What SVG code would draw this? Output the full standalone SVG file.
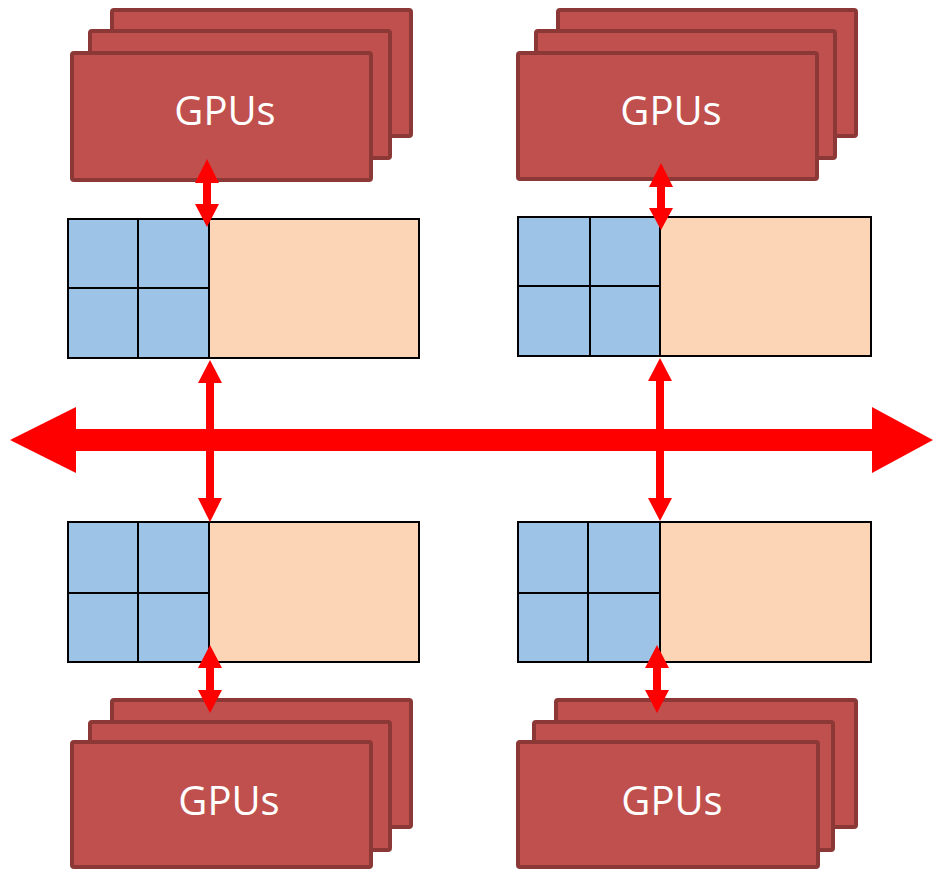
<svg xmlns="http://www.w3.org/2000/svg" width="933" height="871" viewBox="0 0 933 871">
  <style>
    .gpu { fill: #C0504D; stroke: #8C3836; stroke-width: 4; }
    .label { font-family: "Open Sans", "Liberation Sans", sans-serif; font-size: 40px; fill: #FFFFFF; text-anchor: middle; }
    .mem { fill: #FBD5B5; stroke: #000000; stroke-width: 2; }
    .cell { fill: #9DC3E6; stroke: #000000; stroke-width: 2; }
    .grid { stroke: #000000; stroke-width: 2; fill: none; }
    .link { fill: #FF0000; }
  </style>

  <!-- GPU stacks -->
  <g id="gpus-top-left">
    <rect class="gpu" x="112" y="10" width="299" height="126" rx="2"/>
    <rect class="gpu" x="90" y="31" width="300" height="127" rx="2"/>
    <rect class="gpu" x="72" y="53" width="299" height="127" rx="2"/>
    <text class="label" x="225" y="125">GPUs</text>
  </g>
  <g id="gpus-top-right">
    <rect class="gpu" x="558" y="10" width="298" height="126" rx="2"/>
    <rect class="gpu" x="536" y="31" width="299" height="127" rx="2"/>
    <rect class="gpu" x="518" y="53" width="299" height="126" rx="2"/>
    <text class="label" x="671" y="125">GPUs</text>
  </g>
  <g id="gpus-bottom-left">
    <rect class="gpu" x="112" y="700" width="299" height="127" rx="2"/>
    <rect class="gpu" x="90" y="722" width="300" height="128" rx="2"/>
    <rect class="gpu" x="72" y="742" width="299" height="125" rx="2"/>
    <text class="label" x="229" y="815">GPUs</text>
  </g>
  <g id="gpus-bottom-right">
    <rect class="gpu" x="556" y="700" width="300" height="127" rx="2"/>
    <rect class="gpu" x="534" y="722" width="299" height="128" rx="2"/>
    <rect class="gpu" x="518" y="742" width="300" height="125" rx="2"/>
    <text class="label" x="672" y="815">GPUs</text>
  </g>

  <!-- Nodes: 2x2 core grid + memory -->
  <g id="node-top-left">
    <rect class="mem" x="68" y="219" width="351" height="139"/>
    <rect class="cell" x="68" y="219" width="141" height="139"/>
    <path class="grid" d="M138,219 V358 M68,288 H209"/>
  </g>
  <g id="node-top-right">
    <rect class="mem" x="518" y="217" width="353" height="139"/>
    <rect class="cell" x="518" y="217" width="142" height="139"/>
    <path class="grid" d="M590,217 V356 M518,286 H660"/>
  </g>
  <g id="node-bottom-left">
    <rect class="mem" x="68" y="522" width="351" height="140"/>
    <rect class="cell" x="68" y="522" width="141" height="140"/>
    <path class="grid" d="M138,522 V662 M68,593 H209"/>
  </g>
  <g id="node-bottom-right">
    <rect class="mem" x="518" y="522" width="353" height="140"/>
    <rect class="cell" x="518" y="522" width="142" height="140"/>
    <path class="grid" d="M588,522 V662 M518,593 H660"/>
  </g>

  <!-- Connectors -->
  <g id="connectors">
    <!-- shared interconnect -->
    <path class="link" d="M10,440 L76,407 L76,429 L872,429 L872,407 L933,440 L872,473 L872,451 L76,451 L76,473 Z"/>
    <!-- node to interconnect -->
    <path class="link" d="M210,360 L222,383 L214,383 L214,498 L222,498 L210,522 L198,498 L206,498 L206,383 L198,383 Z"/>
    <path class="link" d="M660,358 L672,381 L664,381 L664,498 L672,498 L660,521 L648,498 L656,498 L656,381 L648,381 Z"/>
    <!-- GPU to node -->
    <path class="link" d="M207,159 L219,183 L211,183 L211,204 L219,204 L207,227 L195,204 L203,204 L203,183 L195,183 Z"/>
    <path class="link" d="M661,163 L673,187 L665,187 L665,208 L673,208 L661,230 L649,208 L657,208 L657,187 L649,187 Z"/>
    <path class="link" d="M210,645 L222,668 L214,668 L214,690 L222,690 L210,713 L198,690 L206,690 L206,668 L198,668 Z"/>
    <path class="link" d="M657,645 L669,668 L661,668 L661,690 L669,690 L657,713 L645,690 L653,690 L653,668 L645,668 Z"/>
  </g>
</svg>
